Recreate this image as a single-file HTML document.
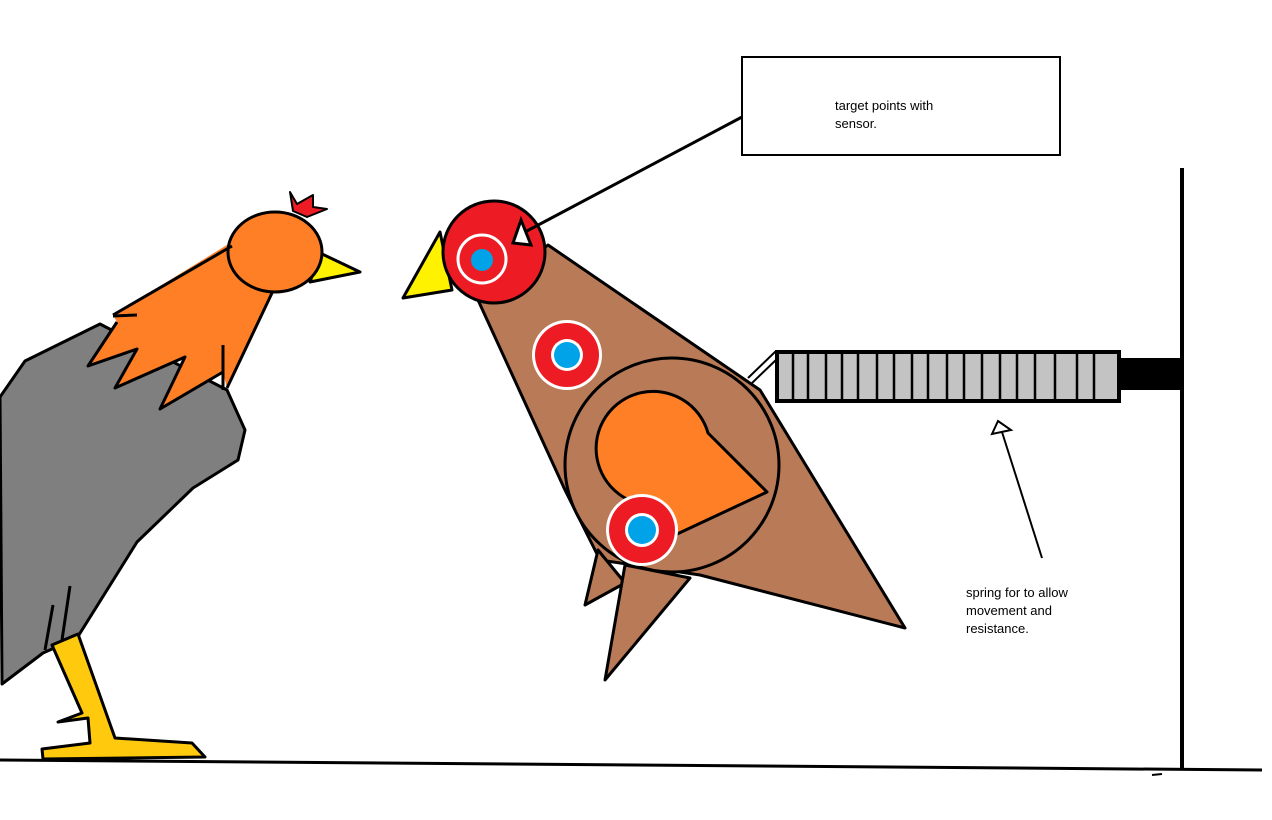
<!DOCTYPE html>
<html><head><meta charset="utf-8"><style>
html,body{margin:0;padding:0;background:#fff;}
svg{display:block;}
text{font-family:"Liberation Sans",sans-serif;font-size:13px;fill:#000;}
</style></head><body>
<svg width="1272" height="820" viewBox="0 0 1272 820" xmlns="http://www.w3.org/2000/svg">
<rect width="1272" height="820" fill="#fff"/>
<g stroke="#000" stroke-width="3" stroke-linejoin="round">
<!-- left chicken -->
<polygon points="0,397 25,361 100,324 227,390 245,430 238,460 193,488 137,542 77,638 43,653 2,684" fill="#7f7f7f"/>
<polygon points="52,645 78,634 115,738 192,743 205,757 43,759 42,749 90,743 88,718 58,722 82,713" fill="#ffc90e"/>
<line x1="53" y1="605" x2="45" y2="650"/>
<line x1="70" y1="586" x2="62" y2="640"/>
<polygon points="320,253 360,272 310,282" fill="#fff200"/>
<polygon points="113,315 235,240 318,252 272,293 227,388 223,372 160,409 185,357 115,388 137,349 88,366 117,322" fill="#ff7f27" stroke="none"/>
<ellipse cx="275" cy="252" rx="47" ry="40" fill="#ff7f27"/>
<polyline points="113,315 232,246" fill="none"/>
<polyline points="272,293 227,388" fill="none"/>
<polyline points="223,372 160,409 185,357 115,388 137,349 88,366 117,322" fill="none"/>
<line x1="223" y1="345" x2="223" y2="390"/>
<line x1="113" y1="316" x2="137" y2="315"/>
<polygon points="290,192 297,204 313,195 313,207 327,209 307,217 293,211" fill="#ed1c24" stroke-width="2"/>
<!-- right bird -->
<polygon points="478,300 548,245 760,390 905,628 700,575 600,560 565,490" fill="#b97a57"/>
<polygon points="598,550 585,605 625,583" fill="#b97a57"/>
<polygon points="625,565 605,680 690,578" fill="#b97a57"/>
<circle cx="672" cy="465" r="107" fill="#b97a57"/>
<path d="M708,433 L767,492 L675,535 L660,505 A57 57 0 1 1 708,433 Z" fill="#ff7f27"/>
<polygon points="403,298 440,232 452,290" fill="#fff200"/>
<circle cx="494" cy="252" r="51" fill="#ed1c24"/>
</g>
<!-- targets -->
<circle cx="482" cy="259" r="24" fill="none" stroke="#fff" stroke-width="3"/>
<circle cx="482" cy="260" r="11" fill="#00a2e8"/>
<circle cx="567" cy="355" r="35" fill="#fff"/><circle cx="567" cy="355" r="32" fill="#ed1c24"/>
<circle cx="567" cy="355" r="16" fill="#fff"/><circle cx="567" cy="355" r="13" fill="#00a2e8"/>
<circle cx="642" cy="530" r="36" fill="#fff"/><circle cx="642" cy="530" r="33" fill="#ed1c24"/>
<circle cx="642" cy="530" r="17" fill="#fff"/><circle cx="642" cy="530" r="14" fill="#00a2e8"/>
<g stroke="#000" stroke-width="3" fill="none">
<line x1="742" y1="117" x2="525" y2="232"/>
<polygon points="513,243 521,220 531,245" fill="#fff"/>
<rect x="742" y="57" width="318" height="98" fill="#fff" stroke-width="2"/>
<line x1="748" y1="378" x2="776" y2="351" stroke-width="2"/>
<line x1="752" y1="383" x2="778" y2="358" stroke-width="2"/>
<rect x="777" y="352" width="342" height="49" fill="#c3c3c3" stroke-width="4"/>
<g stroke-width="2.5">
<line x1="793" y1="352" x2="793" y2="401"/><line x1="808" y1="352" x2="808" y2="401"/>
<line x1="826" y1="352" x2="826" y2="401"/><line x1="842" y1="352" x2="842" y2="401"/>
<line x1="858" y1="352" x2="858" y2="401"/><line x1="877" y1="352" x2="877" y2="401"/>
<line x1="894" y1="352" x2="894" y2="401"/><line x1="912" y1="352" x2="912" y2="401"/>
<line x1="928" y1="352" x2="928" y2="401"/><line x1="947" y1="352" x2="947" y2="401"/>
<line x1="964" y1="352" x2="964" y2="401"/><line x1="982" y1="352" x2="982" y2="401"/>
<line x1="1000" y1="352" x2="1000" y2="401"/><line x1="1017" y1="352" x2="1017" y2="401"/>
<line x1="1035" y1="352" x2="1035" y2="401"/><line x1="1055" y1="352" x2="1055" y2="401"/>
<line x1="1077" y1="352" x2="1077" y2="401"/><line x1="1094" y1="352" x2="1094" y2="401"/>
</g>
<rect x="1120" y="358" width="63" height="32" fill="#000" stroke="none"/>
<line x1="1182" y1="168" x2="1182" y2="770" stroke-width="4"/>
<line x1="1042" y1="558" x2="1002" y2="432" stroke-width="2"/>
<polygon points="992,434 998,421 1011,430" fill="#fff" stroke-width="2"/>
<line x1="0" y1="760" x2="1262" y2="770" stroke-width="3"/>
<line x1="1152" y1="775" x2="1162" y2="774" stroke-width="2"/>
</g>
<text x="835" y="110">target points with</text>
<text x="835" y="128">sensor.</text>
<text x="966" y="597">spring for to allow</text>
<text x="966" y="615">movement and</text>
<text x="966" y="633">resistance.</text>
</svg>
</body></html>
